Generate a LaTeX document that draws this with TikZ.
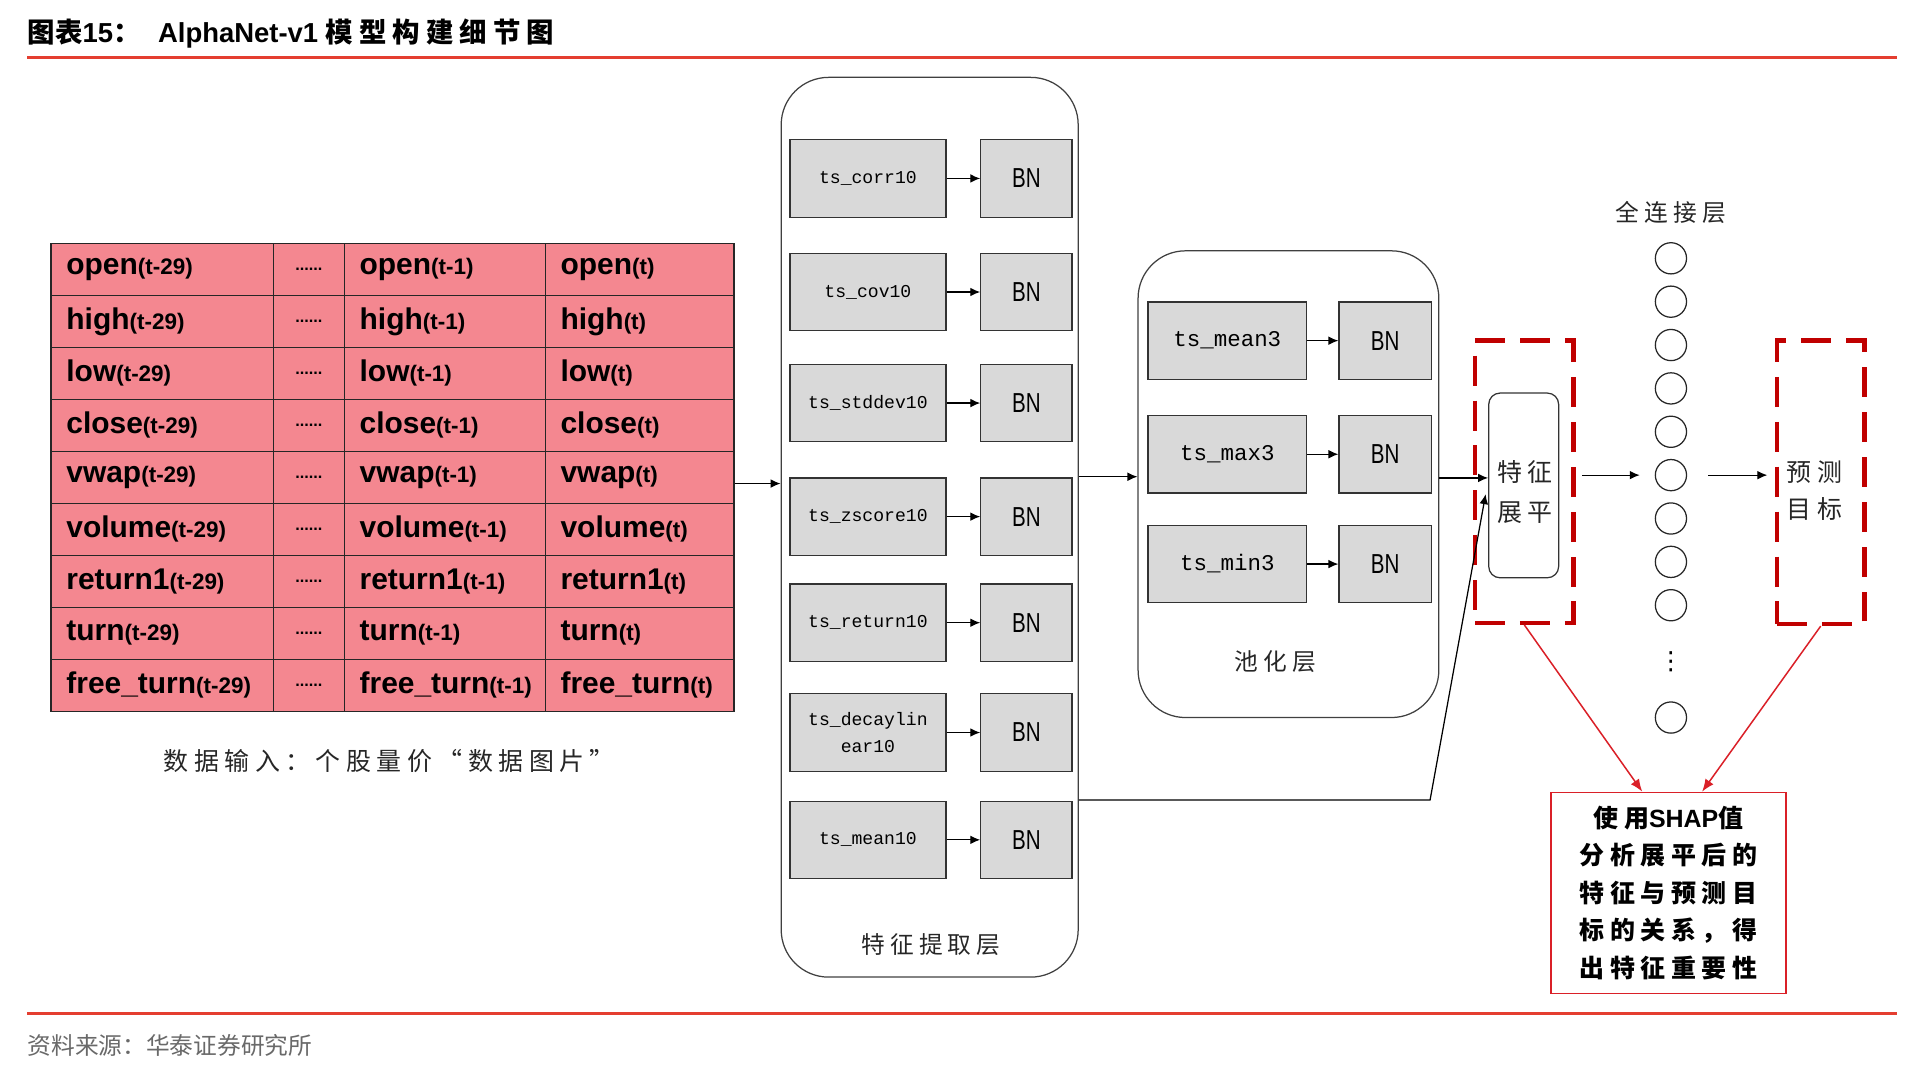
\documentclass[tikz,border=0pt]{standalone}
\usepackage{fontspec}
\setmainfont{Liberation Sans}
\setmonofont{Liberation Mono}
\newfontfamily\cjk{Noto Sans CJK SC}
\newfontfamily\cjkwide{Noto Sans CJK SC}[LetterSpace=22]
\newfontfamily\narrowsf{Liberation Sans}[FakeStretch=0.75]
\newfontfamily\symfont{DejaVu Sans}
\usetikzlibrary{arrows.meta,positioning}

\definecolor{tablepink}{RGB}{244,135,144}
\definecolor{boxgray}{RGB}{217,217,217}
\definecolor{dashred}{RGB}{192,0,0}
\definecolor{rulered}{RGB}{228,62,48}
\definecolor{linkred}{RGB}{218,32,40}
\definecolor{srcgray}{RGB}{105,105,105}

\newcommand\setsize[2]{\fontsize{#1}{#2}\selectfont}
\newcommand\tsub[1]{{\setsize{18}{18}#1}}

\tikzset{
    arr/.style = {-{Latex[length=8pt,width=7pt]}, line width=1pt},
    redarr/.style = {-{Latex[length=10pt,width=8pt]}, line width=1.2pt, draw=linkred, fill=linkred},
    rule/.style = {draw=rulered, line width=2pt},
    opbox/.style = {draw=black!80, fill=boxgray, line width=1pt, minimum width=125pt, minimum height=62pt,
        inner sep=2pt, align=center, font=\ttfamily\setsize{14.5}{21}},
    bnbox/.style = {draw=black!80, fill=boxgray, line width=1pt, minimum width=73pt, minimum height=62pt,
        font=\narrowsf\setsize{22}{22}},
    layerbox/.style = {draw=black!75, line width=1pt, rounded corners=38pt},
    cell/.style = {anchor=west, inner sep=0pt, font=\bfseries\setsize{24}{24}},
    cjklabel/.style = {inner sep=0pt, align=center, text=black!85, font=\cjkwide\setsize{19}{31}},
    dashbox/.style = {draw=dashred, line width=3.5pt, dash pattern=on 24pt off 12pt},
    neuron/.style = {circle, draw=black!85, line width=1pt, minimum size=25pt, inner sep=0pt}
}

\begin{document}
\begin{tikzpicture}[x=1pt, y=-1pt]
    \useasboundingbox (0,0) rectangle (1545,860.6);

    % title and rules
    \node [anchor=west, inner sep=0pt, font=\bfseries\setsize{22}{22}] (title) at (22,27)
        {{\cjk 图表}15{\cjk ：}\hspace{14pt}AlphaNet-v1 {\cjkwide 模型构建细节图}};
    \draw [rule] (22,46) -- (1520,46);
    \draw [rule] (22,812) -- (1520,812);
    \node [anchor=west, inner sep=0pt, text=srcgray, font=\cjk\setsize{19}{19}] (source) at (22,838)
        {资料来源：华泰证券研究所};

    % input table
    \node [draw=black!85, fill=tablepink, line width=1.2pt, minimum width=547pt, minimum height=375pt,
        inner sep=0pt] (table) at (314.5,382.5) {};
    \foreach \i in {1,...,8}
        \draw [black!85, line width=1.2pt] (41,{195+41.67*\i}) -- (588,{195+41.67*\i});
    \foreach \x in {219,276,437}
        \draw [black!85, line width=1.2pt] (\x,195) -- (\x,570);
    \foreach \name [count=\i] in {open,high,low,close,vwap,volume,return1,turn,free\_turn} {
        \pgfmathsetmacro\y{195+41.67*(\i-0.5)}
        \node [cell] (c\i a) at (53,\y) {\name\tsub{(t-29)}};
        \node [inner sep=0pt, font=\bfseries\setsize{13}{13}] (c\i b) at (247.5,\y) {......};
        \node [cell] (c\i c) at (288,\y) {\name\tsub{(t-1)}};
        \node [cell] (c\i d) at (449,\y) {\name\tsub{(t)}};
    }
    \node [cjklabel, font=\cjkwide\setsize{20}{20}] (tablelabel) at (312,610) {数据输入：个股量价“数据图片”};

    % feature extraction layer
    \node [layerbox, minimum width=238pt, minimum height=721pt] (feat) at (745,422.5) {};
    \foreach \op/\y [count=\i] in {ts\_corr10/143, ts\_cov10/234, ts\_stddev10/323, ts\_zscore10/414,
            ts\_return10/499, {ts\_decaylin\\ear10}/587, ts\_mean10/673} {
        \node [opbox] (op\i) at (695.5,\y) {\op};
        \node [bnbox] (bn\i) at (822.5,\y) {BN};
        \draw [arr] (op\i) -- (bn\i);
    }
    \node [cjklabel] (featlabel) at (746,757) {特征提取层};

    % pooling layer
    \node [layerbox, minimum width=241pt, minimum height=374pt] (pool) at (1032.5,388) {};
    \foreach \op/\y [count=\i] in {ts\_mean3/273, ts\_max3/364, ts\_min3/452} {
        \node [opbox, minimum width=127pt, font=\ttfamily\setsize{18}{18}] (pop\i) at (983.5,\y) {\op};
        \node [bnbox, minimum width=74pt] (pbn\i) at (1110,\y) {BN};
        \draw [arr] (pop\i) -- (pbn\i);
    }
    \node [cjklabel] (poollabel) at (1022,530) {池化层};

    % flatten
    \node [dashbox, minimum width=79pt, minimum height=226pt] (flatbox) at (1221.5,386) {};
    \node [draw=black!80, line width=1pt, rounded corners=9pt, minimum width=56pt, minimum height=148pt,
        inner sep=0pt] (flat) at (1221,389) {};
    \node [cjklabel, font=\cjkwide\setsize{20}{32}] (flattext) at (1222,394) {特征\\展平};

    % fully connected layer
    \node [cjklabel] (fclabel) at (1339,170) {全连接层};
    \foreach \k in {1,...,9}
        \node [neuron] (fc\k) at (1339,{207+34.75*(\k-1)}) {};
    \node [inner sep=0pt, font=\symfont\setsize{20}{20}] (fcdots) at (1339,530) {⋮};
    \node [neuron] (fc10) at (1339,575) {};

    % prediction target
    \node [dashbox, minimum width=70pt, minimum height=227pt] (predbox) at (1459,386.5) {};
    \node [cjklabel, font=\cjkwide\setsize{20}{30}] (predtext) at (1454,393) {预测\\目标};

    % SHAP note
    \node [draw=linkred, line width=1.2pt, minimum width=188pt, minimum height=161pt, inner sep=0pt,
        align=center, font=\cjkwide\bfseries\setsize{20}{30}] (shap) at (1337,715.5)
        {使用{\rmfamily\bfseries SHAP}值\\分析展平后的\\特征与预测目\\标的关系，得\\出特征重要性};

    % connectors
    \draw [arr] ([yshift=-5pt]table.east) -- ([yshift=-5pt]table.east -| feat.west);
    \draw [arr] ([yshift=6pt]pool.west -| feat.east) -- ([yshift=6pt]pool.west);
    \draw [arr] ([yshift=5pt]pool.east) -- ([yshift=5pt]pool.east -| flat.west);
    \coordinate (bend) at (1146,641);
    \draw [arr] (feat.east |- bend) -- (bend) -- ([yshift=-7pt, xshift=-2pt]flat.west);
    \draw [arr, shorten <=5pt, shorten >=12pt] (flatbox.east |- fc6) -- (fc6.west);
    \draw [arr, shorten <=17pt, shorten >=6pt] (fc6.east) -- (fc6.east -| predbox.west);
    \draw [redarr] (flatbox.south) -- ([xshift=-21pt]shap.north);
    \draw [redarr] (predbox.south) -- ([xshift=27pt]shap.north);
\end{tikzpicture}
\end{document}
